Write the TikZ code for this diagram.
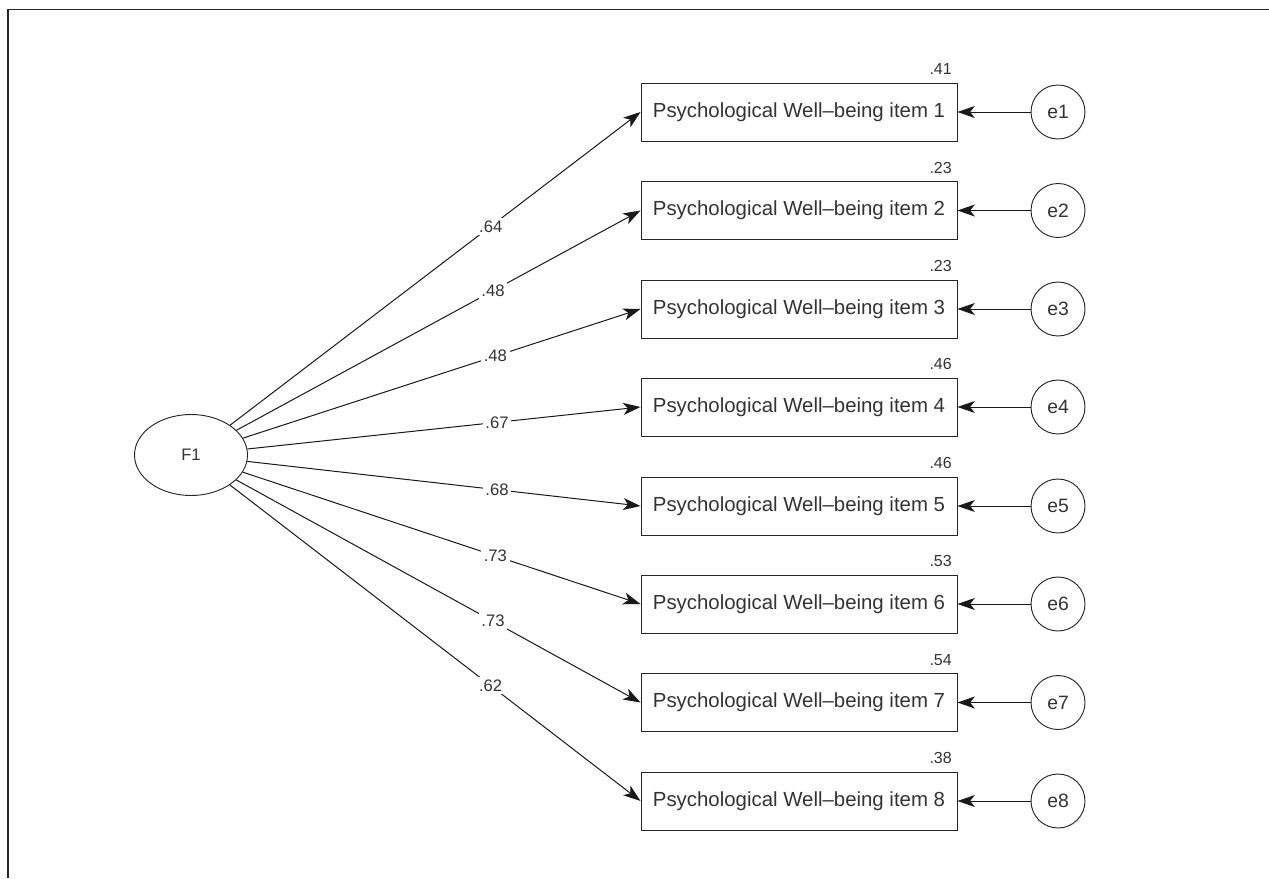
\documentclass[tikz,border=0pt]{standalone}
\usepackage{fontspec}
\setmainfont{Liberation Sans}
\usepackage{xcolor}
\usetikzlibrary{arrows.meta,shapes.geometric}

\begin{document}
\begin{tikzpicture}[x=0.75pt,y=0.75pt,yscale=-1,xscale=1,
  item/.style={draw=black!85,line width=0.7pt,minimum width=237pt,minimum height=43.5pt,inner sep=0pt,text=black!80,font=\fontsize{15.3}{18}\selectfont},
  err/.style={draw=black!85,line width=0.7pt,circle,minimum size=40.5pt,inner sep=0pt,text=black!80,font=\fontsize{14.5}{17}\selectfont},
  load/.style={draw=black!90,line width=0.75pt,-{Stealth[length=13pt,width=9pt,inset=3.5pt]}},
  coef/.style={fill=white,inner sep=2pt,pos=0.635,text=black!80,font=\fontsize{12.5}{15}\selectfont},
  rsq/.style={anchor=south east,inner sep=0pt,text=black!80,font=\fontsize{12}{14}\selectfont}
]
\useasboundingbox (0,0) rectangle (1269,878);
\draw [line width=1.1pt,black!85] (8,878) -- (8,9.5) -- (1269,9.5) ;

% latent factor
\node (f1) [draw=black!85,line width=0.7pt,ellipse,minimum width=84.75pt,minimum height=60.75pt,inner sep=0pt,text=black!80,font=\fontsize{12.5}{14}\selectfont] at (191,455) {F1};

% observed items
\node (i1) [item] at (799,112) {Psychological Well--being item 1};
\node (i2) [item] at (799,210.5) {Psychological Well--being item 2};
\node (i3) [item] at (799,309) {Psychological Well--being item 3};
\node (i4) [item] at (799,407) {Psychological Well--being item 4};
\node (i5) [item] at (799,506) {Psychological Well--being item 5};
\node (i6) [item] at (799,604) {Psychological Well--being item 6};
\node (i7) [item] at (799,702.5) {Psychological Well--being item 7};
\node (i8) [item] at (799,801) {Psychological Well--being item 8};

% squared multiple correlations
\node (r1) [rsq] at (952,75) {.41};
\node (r2) [rsq] at (952,173.5) {.23};
\node (r3) [rsq] at (952,272) {.23};
\node (r4) [rsq] at (952,370) {.46};
\node (r5) [rsq] at (952,469) {.46};
\node (r6) [rsq] at (952,567) {.53};
\node (r7) [rsq] at (952,665.5) {.54};
\node (r8) [rsq] at (952,764) {.38};

% error terms
\node (e1) [err] at (1058,112) {e1};
\node (e2) [err] at (1058,210.5) {e2};
\node (e3) [err] at (1058,309) {e3};
\node (e4) [err] at (1058,407) {e4};
\node (e5) [err] at (1058,506) {e5};
\node (e6) [err] at (1058,604) {e6};
\node (e7) [err] at (1058,702.5) {e7};
\node (e8) [err] at (1058,801) {e8};

% loadings
\draw [load] (f1) -- node [coef] {.64} (i1.west);
\draw [load] (f1) -- node [coef] {.48} (i2.west);
\draw [load] (f1) -- node [coef] {.48} (i3.west);
\draw [load] (f1) -- node [coef] {.67} (i4.west);
\draw [load] (f1) -- node [coef] {.68} (i5.west);
\draw [load] (f1) -- node [coef] {.73} (i6.west);
\draw [load] (f1) -- node [coef] {.73} (i7.west);
\draw [load] (f1) -- node [coef] {.62} (i8.west);

\draw [load] (e1) -- (i1);
\draw [load] (e2) -- (i2);
\draw [load] (e3) -- (i3);
\draw [load] (e4) -- (i4);
\draw [load] (e5) -- (i5);
\draw [load] (e6) -- (i6);
\draw [load] (e7) -- (i7);
\draw [load] (e8) -- (i8);
\end{tikzpicture}
\end{document}
